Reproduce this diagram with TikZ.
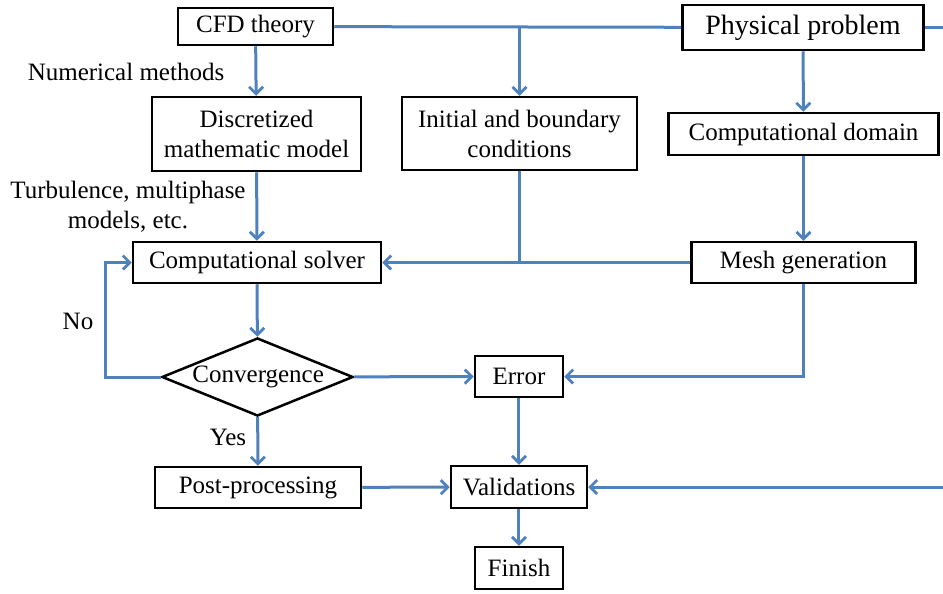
\documentclass[tikz,border=0pt]{standalone}
\usepackage{fontspec}
\setmainfont{Liberation Serif}
\usetikzlibrary{arrows.meta,shapes.geometric}
\definecolor{flowblue}{RGB}{79,129,189}

\begin{document}
\begin{tikzpicture}[x=0.4pt, y=-0.4pt,
  box/.style = {draw, line width=1pt, inner sep=1pt, align=center,
    font=\fontsize{10}{12}\selectfont},
  link/.style = {flowblue, line width=1.2pt},
  arrow/.style = {link, -{Straight Barb[length=2.8pt, width=5.6pt, line width=1.1pt]}},
  lbl/.style = {font=\fontsize{10}{12}\selectfont, align=center}]
\useasboundingbox (0,0) rectangle (943,594);

\node [box, minimum width=62pt, minimum height=14.8pt] (cfd) at (255.5,26.5) {CFD theory};
\node [box, minimum width=96.4pt, minimum height=18pt, font=\fontsize{11.2}{13}\selectfont] (phys) at (803,27.5) {Physical problem};
\node [box, minimum width=83.6pt, minimum height=29.6pt] (disc) at (256.5,134) {Discretized\\mathematic model};
\node [box, minimum width=94pt, minimum height=29.2pt] (init) at (519.5,133.5) {Initial and boundary\\conditions};
\node [box, minimum width=108pt, minimum height=16.8pt] (domain) at (803.5,134) {Computational domain};
\node [box, minimum width=99.2pt, minimum height=16.4pt] (solver) at (257,262.5) {Computational solver};
\node [box, minimum width=89.6pt, minimum height=16.4pt] (mesh) at (803.5,262.5) {Mesh generation};
\node [box, diamond, aspect=2.45, inner sep=0pt, text width=52pt, text height=7pt, text depth=3pt] (conv) at (257.5,377) {Convergence};
\node [box, minimum width=35.2pt, minimum height=16.4pt] (error) at (519,376.5) {Error};
\node [box, minimum width=82.4pt, minimum height=16.4pt] (post) at (258,487.5) {Post-processing};
\node [box, minimum width=54.4pt, minimum height=16.8pt] (valid) at (519,487) {Validations};
\node [box, minimum width=35.2pt, minimum height=16.8pt] (finish) at (519,568) {Finish};

\node [lbl] (nummeth) at (126,72) {Numerical methods};
\node [lbl] (turb) at (128,207) {Turbulence, multiphase\\models, etc.};
\node [lbl] (no) at (78,321) {No};
\node [lbl] (yes) at (228,437) {Yes};

\coordinate (eastout) at (943,27.5);
\coordinate (eastin) at (943,487);

\draw [link] (cfd) -- (phys);
\draw [link] (phys) -- (eastout);
\draw [arrow] (init.north |- cfd.east) -- (init);
\draw [arrow] (cfd) -- (disc);
\draw [arrow] (phys) -- (domain);
\draw [arrow] (domain) -- (mesh);
\draw [arrow] (disc) -- (solver);
\draw [link] (init) -- (init |- solver);
\draw [arrow] (mesh) -- (solver);
\draw [arrow] (solver) -- (conv);
\draw [arrow] (conv.west) -- ++(-55,0) |- (solver.west);
\draw [arrow] (conv) -- (error);
\draw [arrow] (mesh) |- (error);
\draw [arrow] (conv) -- (post);
\draw [arrow] (error) -- (valid);
\draw [arrow] (post) -- (valid);
\draw [arrow] (eastin) -- (valid);
\draw [arrow] (valid) -- (finish);
\end{tikzpicture}
\end{document}
